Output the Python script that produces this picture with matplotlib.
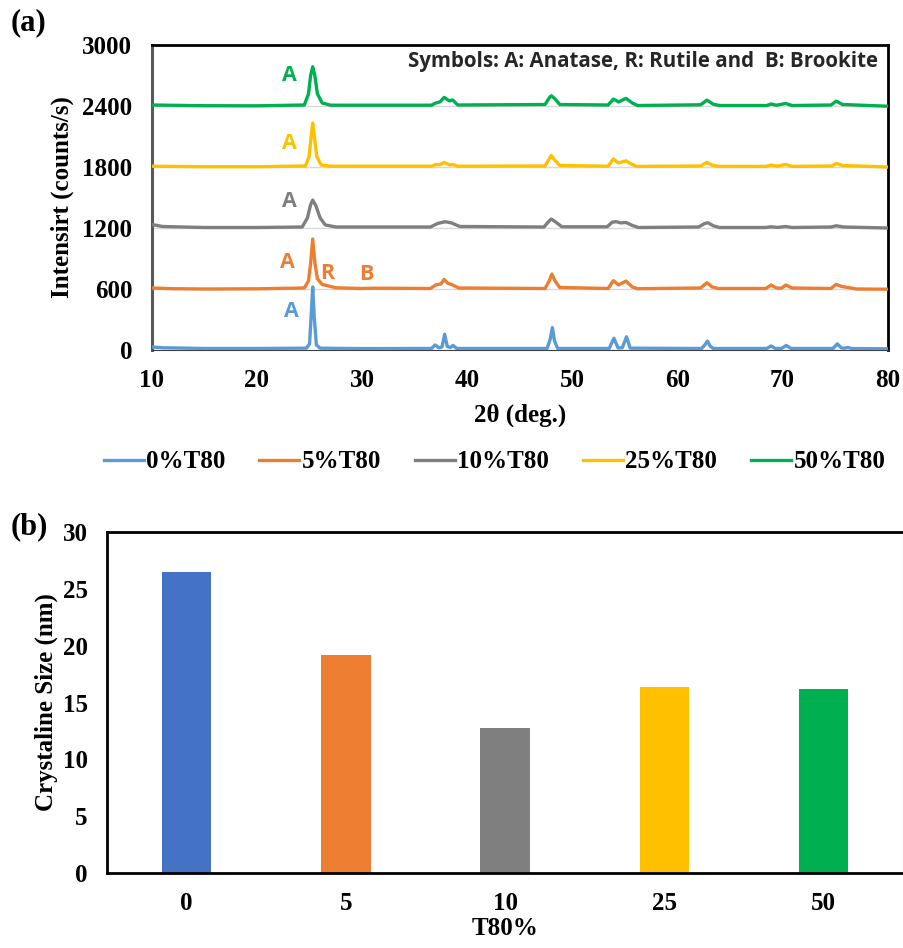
import matplotlib.pyplot as plt

# XRD patterns (2theta, counts/s), offset series as drawn
xrd_0 = [(10, 30), (11, 22), (15, 15), (20, 15), (24.7, 18), (25.0, 60), (25.15, 330), (25.3, 620),
         (25.45, 320), (25.65, 50), (26.0, 18), (30, 14), (36.6, 15), (36.95, 50), (37.3, 22),
         (37.6, 30), (37.85, 155), (38.1, 35), (38.4, 25), (38.65, 45), (39.0, 15), (47.6, 15),
         (47.9, 110), (48.1, 220), (48.3, 90), (48.6, 15), (53.5, 15), (53.95, 115), (54.35, 20),
         (54.75, 22), (55.15, 130), (55.5, 18), (62.3, 15), (62.6, 50), (62.85, 88), (63.1, 40),
         (63.4, 15), (68.5, 15), (68.9, 40), (69.3, 15), (69.9, 15), (70.35, 45), (70.8, 15),
         (74.8, 15), (75.2, 60), (75.6, 20), (75.9, 18), (76.2, 25), (76.6, 14), (80, 12)]
xrd_5 = [(10, 610), (12, 603), (15, 600), (20, 602), (24.5, 610), (24.9, 680), (25.1, 850),
         (25.3, 1092), (25.5, 860), (25.75, 700), (26.2, 645), (27.5, 612), (30, 605), (31, 608),
         (36.5, 605), (37.0, 640), (37.5, 650), (37.8, 695), (38.1, 660), (38.6, 640), (39.2, 610),
         (47.4, 605), (47.8, 680), (48.05, 747), (48.35, 680), (48.8, 615), (53.4, 605),
         (53.9, 682), (54.4, 640), (55.1, 678), (55.7, 620), (56.2, 603), (62.2, 610), (62.8, 662),
         (63.3, 620), (63.9, 605), (68.4, 605), (68.9, 639), (69.4, 610), (69.9, 608), (70.3, 639),
         (70.9, 610), (74.6, 605), (75.1, 646), (75.6, 625), (76.2, 615), (77, 600), (80, 598)]
xrd_10 = [(10, 1235), (11, 1215), (15, 1205), (20, 1205), (24.3, 1210), (24.8, 1300), (25.1, 1430),
          (25.3, 1475), (25.6, 1420), (26.0, 1300), (26.5, 1230), (27.5, 1210), (36.5, 1210),
          (37.2, 1245), (37.9, 1262), (38.5, 1250), (39.3, 1215), (47.3, 1210), (47.8, 1270),
          (48.0, 1288), (48.4, 1260), (49.0, 1212), (53.3, 1212), (53.8, 1258), (54.2, 1262),
          (54.6, 1250), (55.1, 1255), (55.7, 1225), (56.3, 1205), (62.0, 1210), (62.6, 1245),
          (62.9, 1252), (63.4, 1222), (64.0, 1205), (68.4, 1205), (68.9, 1212), (69.5, 1206),
          (70.3, 1215), (70.9, 1205), (74.6, 1210), (75.1, 1222), (75.8, 1210), (80, 1200)]
xrd_25 = [(10, 1808), (15, 1803), (20, 1803), (24.6, 1810), (24.95, 1900), (25.15, 2100),
          (25.3, 2232), (25.45, 2100), (25.7, 1900), (26.1, 1820), (27, 1808), (36.6, 1808),
          (37.0, 1825), (37.4, 1822), (37.8, 1845), (38.3, 1822), (38.6, 1825), (39.1, 1808),
          (47.4, 1810), (47.8, 1880), (48.0, 1914), (48.3, 1870), (48.8, 1815), (53.4, 1808),
          (53.9, 1878), (54.4, 1840), (55.1, 1861), (55.6, 1830), (56.1, 1806), (62.2, 1810),
          (62.8, 1845), (63.3, 1818), (63.9, 1806), (68.4, 1806), (68.9, 1819), (69.5, 1808),
          (70.3, 1826), (70.9, 1806), (74.7, 1810), (75.1, 1836), (75.7, 1815), (80, 1800)]
xrd_50 = [(10, 2410), (15, 2403), (20, 2402), (24.5, 2410), (24.9, 2520), (25.1, 2700),
          (25.3, 2786), (25.5, 2700), (25.75, 2520), (26.2, 2430), (27, 2408), (36.6, 2408),
          (37.0, 2430), (37.4, 2440), (37.8, 2485), (38.3, 2450), (38.6, 2460), (39.1, 2410),
          (47.4, 2415), (47.8, 2480), (48.0, 2501), (48.35, 2470), (48.8, 2415), (53.4, 2410),
          (53.9, 2468), (54.4, 2440), (55.1, 2475), (55.7, 2430), (56.2, 2405), (62.2, 2412),
          (62.8, 2458), (63.4, 2418), (64.0, 2405), (68.5, 2405), (68.9, 2420), (69.4, 2408),
          (70.3, 2425), (70.9, 2405), (74.6, 2410), (75.1, 2448), (75.7, 2415), (80, 2398)]

series_labels = ["0%T80", "5%T80", "10%T80", "25%T80", "50%T80"]
line_colors = ["#5B9BD5", "#ED7D31", "#7F7F7F", "#FFC000", "#00B050"]

# phase markers: (text, 2theta, counts, color index)
phase_marks = [("A", 23.3, 374, 0), ("A", 22.9, 865, 1), ("R", 26.7, 757, 1), ("B", 30.4, 747, 1),
               ("A", 23.1, 1465, 2), ("A", 23.1, 2035, 3), ("A", 23.1, 2704, 4)]

t80 = ["0", "5", "10", "25", "50"]
crystal_size = [26.45, 19.15, 12.75, 16.4, 16.15]
bar_colors = ["#4472C4", "#ED7D31", "#7F7F7F", "#FFC000", "#00B050"]

serif = "Liberation Serif"
sans = "Open Sans"

fig = plt.figure(figsize=(9.04, 9.48), dpi=100)

# ---- (a) XRD ----
ax1 = fig.add_axes([0.168, 0.6308, 0.814, 0.3217])
for data, lab, col in zip([xrd_0, xrd_5, xrd_10, xrd_25, xrd_50], series_labels, line_colors):
    xs = [p[0] for p in data]
    ys = [p[1] for p in data]
    ax1.plot(xs, ys, color=col, lw=2.4, label=lab, zorder=3, solid_joinstyle="round")
for yv in [0, 600, 1200, 1800, 2400]:
    ax1.axhline(yv, color="#D9D9D9", lw=1.0, zorder=1)
for txt, xv, yv, ci in phase_marks:
    ax1.text(xv, yv, txt, color=line_colors[ci], fontsize=15.5, fontweight="bold",
             family=sans, ha="center", va="center")
ax1.text(0.987, 0.945, "Symbols: A: Anatase, R: Rutile and  B: Brookite", transform=ax1.transAxes,
         ha="right", va="center", fontsize=14.8, fontweight="bold", family=sans, color="#262626")
ax1.set_xlim(10, 80)
ax1.set_ylim(0, 3000)
ax1.set_xticks(range(10, 81, 10))
ax1.set_yticks(range(0, 3001, 600))
ax1.tick_params(length=0)
ax1.tick_params(axis="x", pad=14)
ax1.tick_params(axis="y", pad=14)
for lbl in ax1.get_xticklabels() + ax1.get_yticklabels():
    lbl.set_fontfamily(serif)
    lbl.set_fontweight("bold")
    lbl.set_fontsize(18)
ax1.spines["left"].set_color("#595959")
ax1.spines["left"].set_linewidth(2.2)
ax1.spines["bottom"].set_color("#404040")
ax1.spines["top"].set_linewidth(2.0)
ax1.spines["right"].set_linewidth(2.0)
ax1.set_xlabel("2θ (deg.)", family=serif, fontweight="bold", fontsize=18, labelpad=8)
ax1.set_ylabel("Intensirt (counts/s)", family=serif, fontweight="bold", fontsize=18, labelpad=6)
fig.legend(loc="center", bbox_to_anchor=(0.547, 0.5127), ncol=5, frameon=False,
           prop={"family": serif, "weight": "bold", "size": 18}, handlelength=1.6,
           handletextpad=0.1, columnspacing=1.35)
fig.text(0.012, 0.976, "(a)", family=serif, fontweight="bold", fontsize=22, va="center")

# ---- (b) crystallite size ----
ax2 = fig.add_axes([0.1184, 0.0791, 0.8805, 0.3597])
ax2.bar(range(len(t80)), crystal_size, width=0.31, color=bar_colors, zorder=2)
ax2.set_xlim(-0.5, 4.5)
ax2.set_ylim(0, 30)
ax2.set_xticks(range(len(t80)))
ax2.set_xticklabels(t80)
ax2.set_yticks(range(0, 31, 5))
ax2.tick_params(length=0)
ax2.tick_params(axis="x", pad=14)
ax2.tick_params(axis="y", pad=14)
for lbl in ax2.get_xticklabels() + ax2.get_yticklabels():
    lbl.set_fontfamily(serif)
    lbl.set_fontweight("bold")
    lbl.set_fontsize(18)
for side in ["left", "bottom", "top"]:
    ax2.spines[side].set_linewidth(2.0)
ax2.spines["right"].set_color("#D9D9D9")
ax2.set_xlabel("T80%", family=serif, fontweight="bold", fontsize=18, labelpad=1)
ax2.set_ylabel("Crystaline Size (nm)", family=serif, fontweight="bold", fontsize=18, labelpad=3)
fig.text(0.012, 0.444, "(b)", family=serif, fontweight="bold", fontsize=22, va="center")

fig.savefig("out.png", dpi=100)
